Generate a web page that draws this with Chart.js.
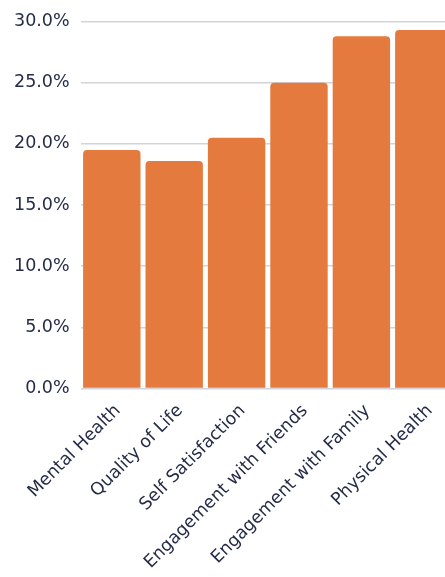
<!DOCTYPE html>
<html>
<head>
<meta charset="utf-8">
<script src="https://cdn.jsdelivr.net/npm/chart.js@4/dist/chart.umd.min.js"></script>
<style>
  html, body { margin: 0; padding: 0; background: #fff; overflow: hidden; }
  #wrap { position: relative; width: 457px; height: 577px; }
</style>
</head>
<body>
<div id="wrap"><canvas id="chart"></canvas></div>
<script>
// Share of respondents reporting improvement, by area
const categories = [
  "Mental Health",
  "Quality of Life",
  "Self Satisfaction",
  "Engagement with Friends",
  "Engagement with Family",
  "Physical Health"
];
const percentages = [19.5, 18.6, 20.5, 25.0, 28.8, 29.3];
const yTicks = [0, 5, 10, 15, 20, 25, 30];

const textColor = "#252c48";
const barColor = "#e57a3f";
const fontFamily = "'DejaVu Sans', sans-serif";

new Chart(document.getElementById("chart"), {
  type: "bar",
  data: {
    labels: categories,
    datasets: [{
      data: percentages,
      backgroundColor: barColor,
      borderRadius: 4,
      borderSkipped: "start",
      barPercentage: 0.92,
      categoryPercentage: 1
    }]
  },
  options: {
    responsive: true,
    maintainAspectRatio: false,
    animation: false,
    layout: { padding: { top: 7, right: 2, left: 3 } },
    plugins: {
      legend: { display: false },
      tooltip: { enabled: false }
    },
    scales: {
      x: {
        grid: { display: false },
        border: { display: false },
        ticks: {
          color: textColor,
          font: { family: fontFamily, size: 17.5 },
          minRotation: 45,
          maxRotation: 45,
          autoSkip: false,
          padding: 4,
          labelOffset: 6
        }
      },
      y: {
        min: 0,
        max: 30,
        afterBuildTicks: axis => { axis.ticks = yTicks.map(v => ({ value: v })) },
        grid: { color: "#d3d3db", lineWidth: 1.5, drawTicks: false },
        border: { display: false },
        ticks: {
          color: textColor,
          font: { family: fontFamily, size: 17.5 },
          padding: 11,
          callback: v => v.toFixed(1) + "%"
        }
      }
    }
  }
});
</script>
</body>
</html>
